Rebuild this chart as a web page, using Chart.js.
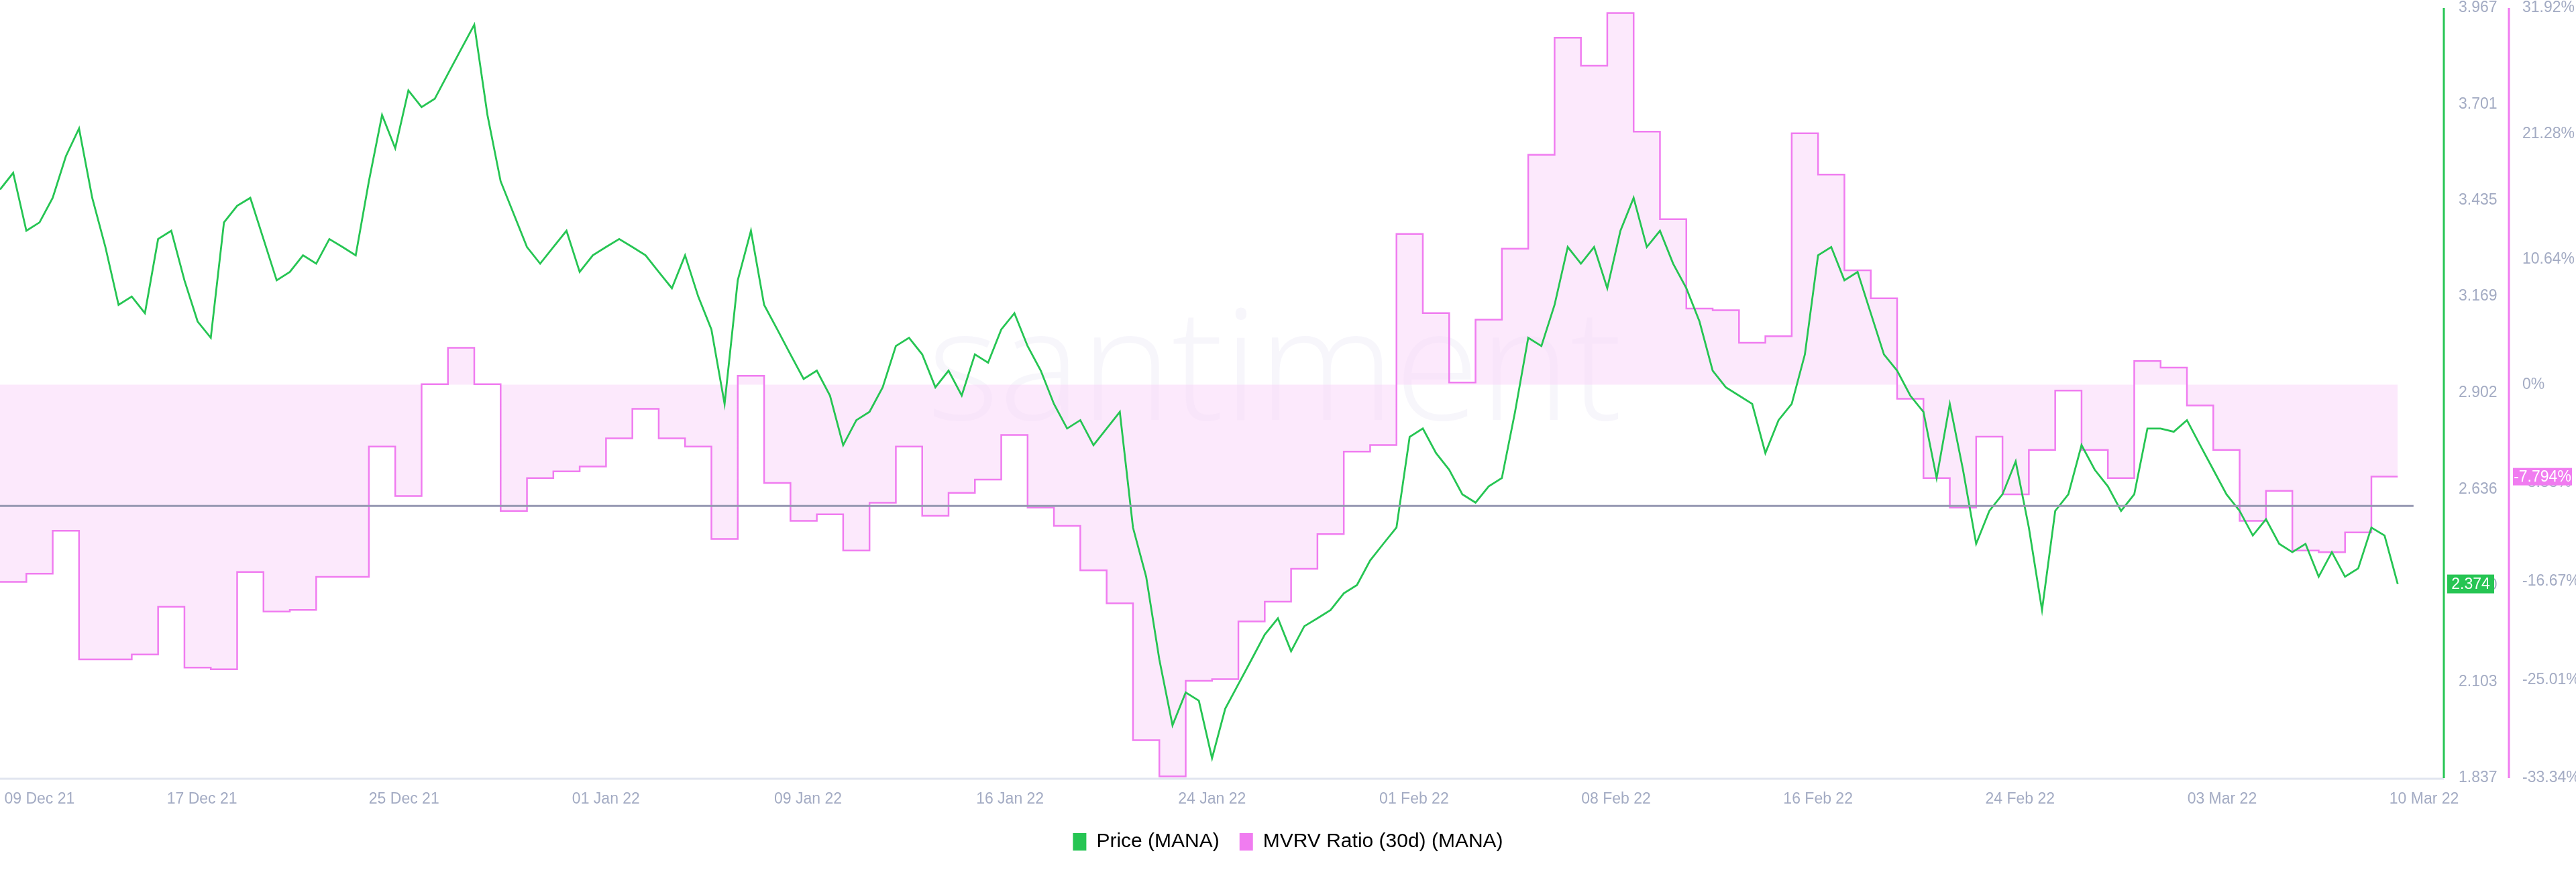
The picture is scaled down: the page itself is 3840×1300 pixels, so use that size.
<!DOCTYPE html>
<html><head><meta charset="utf-8">
<script src="https://cdn.jsdelivr.net/npm/chart.js@4"></script>
<style>html,body{margin:0;padding:0;background:#fff}#wrap{width:3840px;height:1300px}</style>
</head><body><div id="wrap"><canvas id="c" width="3840" height="1300"></canvas></div>
<script>
const sampleStepDays = 0.5;
const priceValues = [3.465,3.511,3.351,3.374,3.442,3.557,3.634,3.442,3.306,3.146,3.169,3.123,3.328,3.351,3.214,3.100,3.055,3.374,3.420,3.442,3.328,3.214,3.237,3.283,3.260,3.328,3.306,3.283,3.488,3.671,3.579,3.739,3.693,3.716,3.785,3.853,3.921,3.671,3.488,3.397,3.306,3.260,3.306,3.351,3.237,3.283,3.306,3.328,3.306,3.283,3.237,3.192,3.283,3.169,3.078,2.872,3.214,3.351,3.146,3.078,3.009,2.941,2.964,2.895,2.758,2.827,2.850,2.918,3.032,3.055,3.009,2.918,2.964,2.895,3.009,2.986,3.078,3.123,3.032,2.964,2.872,2.804,2.827,2.758,2.804,2.850,2.530,2.394,2.165,1.983,2.074,2.051,1.892,2.029,2.097,2.165,2.234,2.279,2.188,2.257,2.279,2.302,2.348,2.371,2.439,2.485,2.530,2.781,2.804,2.736,2.690,2.622,2.599,2.644,2.667,2.850,3.055,3.032,3.146,3.306,3.260,3.306,3.192,3.351,3.442,3.306,3.351,3.260,3.192,3.100,2.964,2.918,2.895,2.872,2.736,2.827,2.872,3.009,3.283,3.306,3.214,3.237,3.123,3.009,2.964,2.895,2.850,2.667,2.872,2.690,2.485,2.576,2.622,2.713,2.530,2.302,2.576,2.622,2.758,2.690,2.644,2.576,2.622,2.804,2.804,2.795,2.827,2.758,2.690,2.622,2.576,2.508,2.553,2.485,2.462,2.485,2.394,2.462,2.394,2.417,2.530,2.508,2.374];
const mvrvValues = [-16.71,-16.01,-12.38,-23.28,-23.28,-22.86,-18.81,-23.98,-24.12,-15.87,-19.23,-19.09,-16.29,-16.29,-5.25,-9.44,0.05,3.13,0.05,-10.70,-7.91,-7.35,-6.93,-4.55,-2.04,-4.55,-5.25,-13.08,0.76,-8.33,-11.54,-10.98,-14.06,-10.0,-5.25,-11.12,-9.16,-8.05,-4.27,-10.42,-11.96,-15.73,-18.53,-30.13,-33.2,-25.10,-24.96,-20.07,-18.39,-15.6,-12.66,-5.67,-5.11,12.77,6.07,0.19,5.51,11.52,19.48,29.40,27.03,31.50,21.44,14.03,6.45,6.31,3.55,4.11,21.3,17.81,9.70,7.32,-1.2,-7.91,-10.42,-4.41,-9.30,-5.53,-0.5,-5.53,-7.91,2.01,1.45,-1.76,-5.53,-11.54,-9.0,-14.06,-14.2,-12.52,-7.794,-7.794];
const referencePrice = 2.59;
const priceTicks = [1.837,2.103,2.370,2.636,2.902,3.169,3.435,3.701,3.967];
const mvrvTicks = [-33.34,-25.01,-16.67,-8.33,0,10.64,21.28,31.92];
const xTickLabels = ['09 Dec 21','17 Dec 21','25 Dec 21','01 Jan 22','09 Jan 22','16 Jan 22','24 Jan 22','01 Feb 22','08 Feb 22','16 Feb 22','24 Feb 22','03 Mar 22','10 Mar 22'];
const spanDays = 92;

const GREEN='#26c553', PINK='#f07cf0', LBL='#a3abc3';
const tickPos = xTickLabels.map((l,i)=>i===0?1.5:i*spanDays/(xTickLabels.length-1));
const priceData = priceValues.map((v,i)=>({x:i*sampleStepDays,y:v}));
const mvrvData = mvrvValues.map((v,i)=>({x:i,y:v}));
const lastPrice = priceValues[priceValues.length-1];
const lastMvrv = mvrvValues[mvrvValues.length-1];

const deco = {
  id:'deco',
  beforeDatasetsDraw(ch){
    const c=ch.ctx;
    c.save();
    c.font='300 230px "Open Sans"'; c.fillStyle='rgba(200,190,225,0.14)';
    c.textAlign='center'; c.textBaseline='middle';
    c.fillText('santiment', 1900, 560);
    c.restore();
  },
  afterDraw(ch){
    const c=ch.ctx, a=ch.chartArea, ys=ch.scales.y, y1=ch.scales.y1;
    c.save();
    c.strokeStyle='#e1e5ef'; c.lineWidth=3;
    c.beginPath(); c.moveTo(0,a.bottom+1); c.lineTo(a.right,a.bottom+1); c.stroke();
    c.strokeStyle=GREEN; c.beginPath(); c.moveTo(a.right,a.top); c.lineTo(a.right,a.bottom); c.stroke();
    c.strokeStyle=PINK; c.beginPath(); c.moveTo(y1.left,a.top); c.lineTo(y1.left,a.bottom); c.stroke();
    c.font='23px "Liberation Sans"'; c.textBaseline='middle'; c.textAlign='center';
    let py=ys.getPixelForValue(lastPrice);
    c.fillStyle=GREEN; c.fillRect(a.right+5,py-14,70,28);
    c.fillStyle='#fff'; c.fillText(lastPrice.toFixed(3),a.right+40,py+1);
    let my=y1.getPixelForValue(lastMvrv);
    c.fillStyle=PINK; c.fillRect(y1.left+6,my-13,88,26);
    c.fillStyle='#fff'; c.fillText(lastMvrv.toFixed(3)+'%',y1.left+50,my+1);
    c.restore();
  }
};

new Chart(document.getElementById('c'),{
  type:'line',
  data:{datasets:[
    {label:'Price (MANA)',data:priceData,yAxisID:'y',borderColor:GREEN,backgroundColor:GREEN,borderWidth:2.8,pointRadius:0,tension:0,order:1},
    {label:'MVRV Ratio (30d) (MANA)',data:mvrvData,yAxisID:'y1',borderColor:PINK,backgroundColor:'rgba(249,215,249,0.55)',borderWidth:2.5,pointRadius:0,stepped:'before',fill:'origin',order:2},
    {label:'ref',data:[{x:0,y:referencePrice},{x:91.6,y:referencePrice}],yAxisID:'y',borderColor:'#9698b2',borderWidth:3,pointRadius:0,order:0}
  ]},
  plugins:[deco],
  options:{
    responsive:false,animation:false,
    layout:{padding:{top:12,left:0,right:0,bottom:20}},
    plugins:{tooltip:{enabled:false},
      legend:{position:'bottom',labels:{filter:i=>i.text!=='ref',boxWidth:20,boxHeight:26,padding:30,color:'#1e2233',font:{size:30,family:'"Liberation Sans Narrow","Liberation Sans"'},
        generateLabels:ch=>ch.data.datasets.map((d,i)=>({text:d.label,fillStyle:d.borderColor,strokeStyle:d.borderColor,lineWidth:0,datasetIndex:i}))}}},
    scales:{
      x:{type:'linear',min:0,max:92.75,grid:{display:false},border:{display:false},
        afterBuildTicks:s=>{s.ticks=tickPos.map(v=>({value:v}));},
        afterFit:s=>{s.height=50;s.paddingLeft=0;s.paddingRight=0;},
        ticks:{autoSkip:false,maxRotation:0,padding:10,color:LBL,font:{size:23,family:'"Liberation Sans Narrow","Liberation Sans"'},callback:(v,i)=>xTickLabels[i]}},
      y:{position:'right',min:1.837,max:3.967,grid:{display:false},border:{display:false},
        afterBuildTicks:s=>{s.ticks=priceTicks.map(v=>({value:v}));},
        afterFit:s=>{s.width=97;s.paddingTop=0;s.paddingBottom=0;},
        ticks:{padding:14,color:LBL,font:{size:23,family:'"Liberation Sans"'},callback:v=>v.toFixed(3)}},
      y1:{position:'right',min:-33.34,max:31.92,grid:{display:false},border:{display:false},
        afterBuildTicks:s=>{s.ticks=mvrvTicks.map(v=>({value:v}));},
        afterFit:s=>{s.width=100;s.paddingTop=0;s.paddingBottom=0;},
        ticks:{padding:12,color:LBL,font:{size:23,family:'"Liberation Sans"'},callback:v=>(v===0?'0':v.toFixed(2))+'%'}}
    }
  }
});
</script></body></html>
